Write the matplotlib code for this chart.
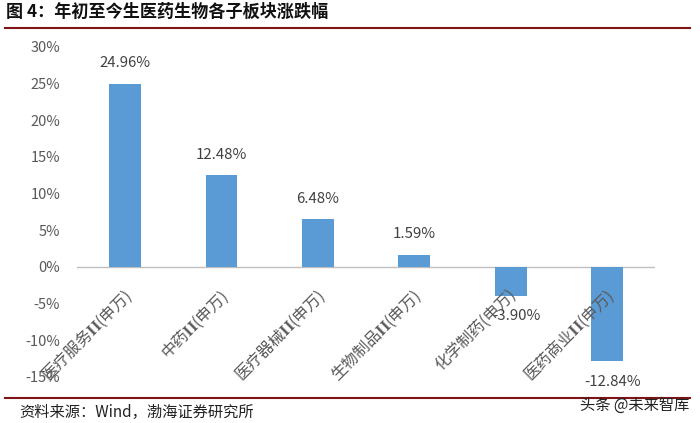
import matplotlib
matplotlib.use("Agg")
import matplotlib.pyplot as plt
from matplotlib.lines import Line2D

plt.rcParams['font.family'] = ['Noto Sans CJK SC', 'DejaVu Sans']
plt.rcParams['mathtext.fontset'] = 'stix'

categories = ["医疗服务$\\mathbf{II}$(申万)", "中药$\\mathbf{II}$(申万)", "医疗器械$\\mathbf{II}$(申万)",
              "生物制品$\\mathbf{II}$(申万)", "化学制药(申万)", "医药商业$\\mathbf{II}$(申万)"]
values = [24.96, 12.48, 6.48, 1.59, -3.90, -12.84]
yticks = [-15, -10, -5, 0, 5, 10, 15, 20, 25, 30]
title = "图 4：年初至今生医药生物各子板块涨跌幅"
source = "资料来源：Wind，渤海证券研究所"
watermark = "头条 @未来智库"

fig = plt.figure(figsize=(7, 4.23), dpi=100)
ax = fig.add_axes([0.11, 0.109, 0.826, 0.78])
x = list(range(len(categories)))
ax.bar(x, values, width=0.33, color="#5B9BD5", zorder=2)
ax.set_xlim(-0.5, len(categories) - 0.5)
ax.set_ylim(-15, 30)
ax.set_yticks(yticks)
ax.set_yticklabels([f"{t}%" for t in yticks], color="#595959", fontsize=10.5)
ax.tick_params(axis='y', length=0, pad=12)
ax.set_xticks([])
for s in ax.spines.values():
    s.set_visible(False)
ax.axhline(0, color="#BFBFBF", lw=1, zorder=1)

for xi, v in zip(x, values):
    if v >= 0:
        ax.annotate(f"{v:.2f}%", (xi, v), xytext=(0, 10), textcoords="offset points",
                    ha="center", va="bottom", fontsize=10.8, color="#404040")
    else:
        ax.annotate(f"{v:.2f}%", (xi, v), xytext=(4, -10), textcoords="offset points",
                    ha="center", va="top", fontsize=10.8, color="#404040")

for xi, c in zip(x, categories):
    ax.annotate(c, (xi, 0), xytext=(-2, -14), textcoords="offset points",
                rotation=45, rotation_mode="anchor", ha="right", va="top",
                fontsize=11.5, color="#595959")

fig.text(0.008, 0.972, title, fontsize=12.3, fontweight="bold", color="#111111", va="center", ha="left")
fig.add_artist(Line2D([0.007, 0.986], [1 - 28/423, 1 - 28/423], color="#7F1416", lw=1.5))
fig.add_artist(Line2D([0.007, 0.986], [1 - 398/423, 1 - 398/423], color="#7F1416", lw=1.5))
fig.text(0.028, 1 - 412/423, source, fontsize=11, fontstyle="italic", color="#222222", va="center", ha="left")
fig.text(0.985, 1 - 405/423, watermark, fontsize=11, color="#222222", va="center", ha="right")

fig.savefig("out.png", dpi=100)
